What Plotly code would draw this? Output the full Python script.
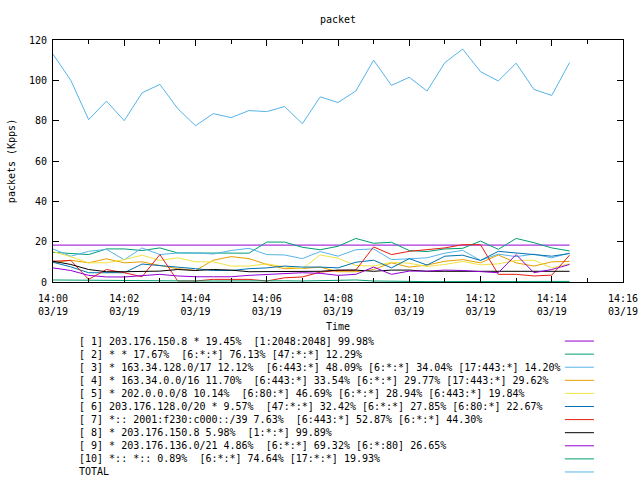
import plotly.graph_objects as go

times = ["2013-03-19 14:%02d:%02d" % (m, s) for m in range(0, 15) for s in (0, 30)]

labels = [
    "[ 1] 203.176.150.8 * 19.45%  [1:2048:2048] 99.98%",
    "[ 2] * * 17.67%  [6:*:*] 76.13% [47:*:*] 12.29%",
    "[ 3] * 163.34.128.0/17 12.12%  [6:443:*] 48.09% [6:*:*] 34.04% [17:443:*] 14.20%",
    "[ 4] * 163.34.0.0/16 11.70%  [6:443:*] 33.54% [6:*:*] 29.77% [17:443:*] 29.62%",
    "[ 5] * 202.0.0.0/8 10.14%  [6:80:*] 46.69% [6:*:*] 28.94% [6:443:*] 19.84%",
    "[ 6] 203.176.128.0/20 * 9.57%  [47:*:*] 32.42% [6:*:*] 27.85% [6:80:*] 22.67%",
    "[ 7] *:: 2001:f230:c000::/39 7.63%  [6:443:*] 52.87% [6:*:*] 44.30%",
    "[ 8] * 203.176.150.8 5.98%  [1:*:*] 99.89%",
    "[ 9] * 203.176.136.0/21 4.86%  [6:*:*] 69.32% [6:*:80] 26.65%",
    "[10] *:: *:: 0.89%  [6:*:*] 74.64% [17:*:*] 19.93%",
    "TOTAL",
]
colors = ["#9400d3", "#009e73", "#56b4e9", "#e69f00", "#f0e442", "#0072b2",
          "#e51e10", "#000000", "#9400d3", "#009e73", "#56b4e9"]

s1 = [18.3, 18.3, 18.3, 18.3, 18.3, 18.3, 18.3, 18.3, 18.3, 18.3, 18.3, 18.3, 18.3, 18.3, 18.3,
      18.3, 18.3, 18.3, 18.3, 18.3, 18.3, 18.3, 18.3, 18.3, 18.3, 18.3, 18.3, 18.3, 18.3, 18.3]
s2 = [14.7, 14.0, 13.6, 16.4, 16.4, 15.6, 16.9, 14.4, 14.4, 14.3, 14.3, 14.3, 19.8, 19.8, 17.2,
      16.0, 17.7, 21.6, 19.2, 19.7, 15.6, 15.1, 16.4, 16.7, 20.3, 16.2, 21.6, 19.5, 16.9, 15.4]
s3 = [16.4, 12.8, 15.2, 16.2, 11.0, 16.9, 13.6, 14.4, 14.4, 13.9, 15.6, 16.7, 13.6, 13.4, 11.6,
      15.1, 12.8, 16.0, 16.4, 11.1, 11.5, 12.0, 14.3, 15.7, 10.7, 13.8, 12.6, 13.8, 12.0, 14.4]
s4 = [9.5, 10.8, 9.5, 11.5, 9.5, 10.0, 8.2, 6.6, 5.7, 10.8, 12.6, 11.6, 8.7, 6.6, 6.7,
      7.4, 5.1, 5.1, 6.2, 9.5, 7.4, 8.4, 10.3, 11.1, 9.5, 13.4, 9.5, 7.9, 10.0, 10.2]
s5 = [15.1, 12.5, 9.5, 9.5, 11.1, 13.3, 10.7, 12.0, 10.0, 10.0, 7.9, 7.9, 9.0, 7.5, 6.6,
      13.4, 11.8, 8.2, 7.9, 9.8, 9.3, 7.7, 8.7, 10.2, 8.5, 9.0, 10.7, 10.8, 7.0, 9.0]
s6 = [9.8, 7.5, 4.6, 4.6, 4.6, 8.9, 8.2, 7.5, 6.6, 5.7, 5.7, 6.6, 7.0, 7.9, 7.4,
      7.4, 7.0, 9.8, 10.8, 7.0, 11.6, 8.4, 12.8, 13.3, 10.7, 15.2, 14.4, 13.3, 12.8, 14.1]
s7 = [10.3, 10.7, 1.3, 6.2, 4.6, 2.6, 13.6, 0.5, 0.5, 1.3, 1.3, 1.3, 0.5, 2.1, 2.5,
      4.9, 5.7, 5.9, 17.4, 13.6, 15.2, 16.1, 16.9, 18.5, 18.5, 3.8, 3.8, 3.0, 3.4, 13.3]
s8 = [10.3, 8.7, 6.2, 5.1, 5.1, 5.1, 5.4, 6.2, 5.7, 6.2, 5.9, 5.1, 5.1, 5.1, 5.1,
      5.3, 5.9, 5.9, 5.3, 5.9, 5.9, 5.3, 5.3, 5.3, 5.1, 5.1, 5.3, 5.3, 5.3, 5.3]
s9 = [7.0, 5.7, 3.3, 2.5, 2.5, 3.3, 3.8, 3.0, 2.6, 2.6, 2.6, 3.3, 3.8, 4.3, 4.6,
      4.3, 3.3, 3.8, 7.4, 3.8, 5.4, 5.4, 5.9, 5.7, 5.1, 4.6, 13.6, 4.6, 6.2, 8.7]
s10 = [1.0, 0.9, 0.8, 0.8, 0.8, 0.8, 0.7, 0.5, 0.5, 0.5, 0.6, 0.6, 0.6, 0.6, 0.5,
       0.6, 0.8, 1.0, 0.5, 0.3, 0.2, 0.2, 0.2, 0.2, 0.2, 0.2, 0.2, 0.2, 0.3, 0.3]
total = [113, 100, 80.5, 89.7, 80, 93.8, 98, 86, 77.5, 83.5, 81.5, 85, 84.5, 87, 78.5,
         91.8, 89, 94.7, 110, 97.5, 101.5, 94.7, 108.8, 115.5, 104.3, 99.7, 108.5, 95.5, 92.5, 108.8]

series = [s1, s2, s3, s4, s5, s6, s7, s8, s9, s10, total]

FONT = "DejaVu Sans Mono"
fig = go.Figure()
for name, col, ys in zip(labels, colors, series):
    fig.add_trace(go.Scatter(x=times, y=ys, mode="lines", name=name,
                             line=dict(color=col, width=1), showlegend=False))

# gnuplot-style key below the plot: text left, sample line right
y0 = -0.244
step = 0.0541
for i, (name, col) in enumerate(zip(labels, colors)):
    yy = y0 - i * step
    fig.add_annotation(x=0.042, y=yy, xref="paper", yref="paper", text=name,
                       showarrow=False, xanchor="left", yanchor="middle",
                       font=dict(family=FONT, size=10, color="black"))
    fig.add_shape(type="line", xref="paper", yref="paper", x0=0.898, x1=0.949,
                  y0=yy, y1=yy, line=dict(color=col, width=1))

W, H = 640, 480
fig.update_layout(
    width=W, height=H,
    margin=dict(l=53, r=17, t=40, b=198, autoexpand=False),
    paper_bgcolor="white", plot_bgcolor="white",
    font=dict(family=FONT, size=10, color="black"),
    title=dict(text="packet", x=338 / W, xref="container", y=1 - 19 / H, yref="container",
               xanchor="center", yanchor="middle", font=dict(family=FONT, size=10)),
    xaxis=dict(type="date", range=["2013-03-19 14:00", "2013-03-19 14:16"], automargin=False,
               dtick=120000, tick0="2013-03-19 14:00", tickformat="%H:%M<br>%m/%d",
               ticks="inside", ticklen=6, tickcolor="black", showline=True, linecolor="black",
               mirror="ticks", showgrid=False, zeroline=False, ticklabelstandoff=7,
               ticklabeloverflow="allow",
               minor=dict(dtick=60000, ticks="inside", ticklen=4, tickcolor="black", showgrid=False),
               title=dict(text="Time", standoff=6, font=dict(family=FONT, size=10)),
               tickfont=dict(family=FONT, size=10)),
    yaxis=dict(range=[0, 120], dtick=20, ticks="inside", ticklen=6, tickcolor="black",
               showline=True, linecolor="black", mirror="ticks", showgrid=False, zeroline=False,
               ticklabelstandoff=3, automargin=False,
               title=dict(text="packets (Kpps)", standoff=11, font=dict(family=FONT, size=10)),
               tickfont=dict(family=FONT, size=10)),
)

# remove the page's default 8px body margin so the 640x480 figure fills the window exactly
fig.write_html("out.html", config={"displayModeBar": False},
               post_script="document.body.style.margin='0px';document.body.style.overflow='hidden';")
